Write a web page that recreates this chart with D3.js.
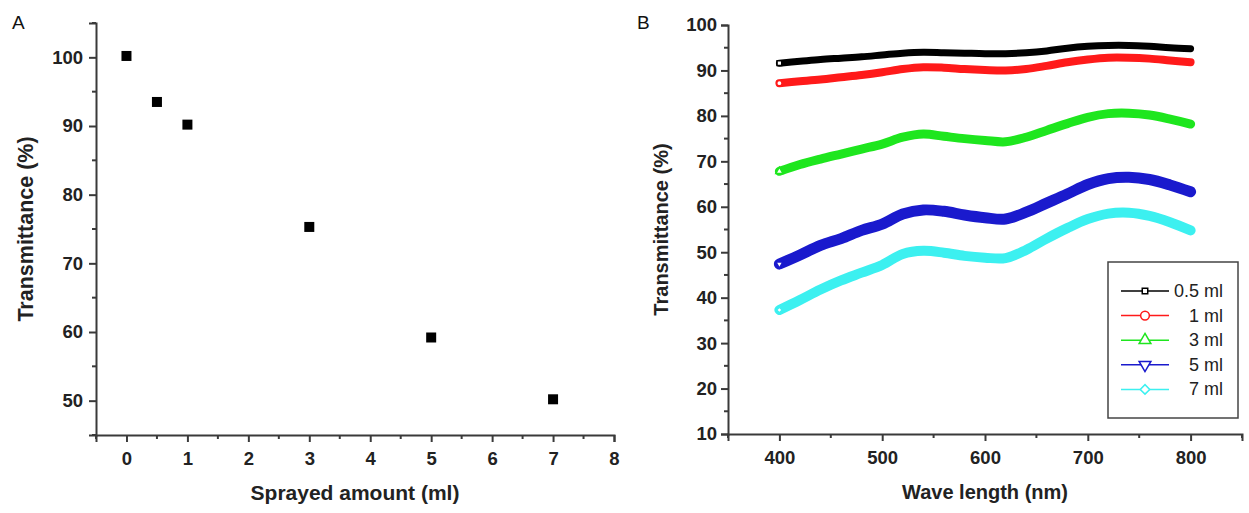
<!DOCTYPE html>
<html><head><meta charset="utf-8">
<script src="https://cdn.jsdelivr.net/npm/d3@7"></script>
<style>
body{margin:0;background:#fff;}
svg text{font-family:"Liberation Sans",Arial,sans-serif;}
</style></head>
<body><svg id="c" width="1249" height="513"></svg>
<script>
// Panel A data
const sprayAmounts = [0, 0.5, 1, 3, 5, 7];
const transA = [100.2, 93.5, 90.2, 75.3, 59.2, 50.2];
const aXTicks = [0,1,2,3,4,5,6,7,8];
const aYTicks = [50,60,70,80,90,100];

// Panel B data
const wavelengths = [400,420,440,460,480,500,520,540,560,580,600,620,640,660,680,700,720,740,760,780,800];
const seriesNames = ["0.5 ml","1 ml","3 ml","5 ml","7 ml"];
const t05 = [91.6,92.0,92.4,92.7,93.0,93.4,93.8,94.0,93.9,93.8,93.7,93.7,93.9,94.3,94.9,95.3,95.5,95.5,95.3,95.0,94.8];
const t1  = [87.2,87.6,88.0,88.5,89.0,89.6,90.3,90.7,90.6,90.3,90.1,90.0,90.3,91.0,91.8,92.4,92.8,92.8,92.6,92.2,91.8];
const t3  = [67.8,69.3,70.5,71.6,72.7,73.8,75.3,76.0,75.5,75.0,74.6,74.3,75.3,76.8,78.3,79.7,80.5,80.6,80.2,79.3,78.2];
const t5  = [47.4,49.4,51.5,53.0,54.8,56.2,58.4,59.3,59.0,58.2,57.6,57.3,58.8,60.8,62.8,64.9,66.2,66.5,66.0,64.8,63.3];
const t7  = [37.3,39.5,41.8,43.8,45.5,47.2,49.6,50.3,49.9,49.2,48.8,48.7,50.5,53.0,55.3,57.3,58.5,58.7,58.0,56.6,54.8];
const bXTicks = [400,500,600,700,800];
const bYTicks = [10,20,30,40,50,60,70,80,90,100];

const seriesData = [t05,t1,t3,t5,t7];
const colors = ["#000000","#ff1a1a","#1ee61e","#1a1acd","#3cf0f0"];
const widths = [7,8,9,11,10];
const symbols = [d3.symbolSquare, d3.symbolCircle, d3.symbolTriangle, d3.symbolTriangle, d3.symbolSquare];
const symRot = [0,0,0,180,45];

const svg = d3.select("#c");
const axisColor = "#3a3a3a";

function styleAxis(g){
  g.select(".domain").attr("stroke", axisColor).attr("stroke-width", 2);
  g.selectAll(".tick line").attr("stroke", axisColor).attr("stroke-width", 2);
  g.selectAll(".tick text").attr("fill","#222").style("font-weight","bold").style("font-size","18.5px")
    .style("font-family","'Liberation Sans',Arial,sans-serif");
}
function minorTicks(g, ticks, scale, orient, len){
  ticks.forEach(v=>{
    const p = scale(v);
    if(orient==="bottom") g.append("line").attr("x1",p).attr("x2",p).attr("y1",0).attr("y2",len);
    else g.append("line").attr("y1",p).attr("y2",p).attr("x1",0).attr("x2",-len);
  });
}

// ---------- Panel A ----------
const ax = d3.scaleLinear().domain([-0.5, 8]).range([96, 614]);
const ay = d3.scaleLinear().domain([45, 105]).range([435, 23]);

const gAx = svg.append("g").attr("transform","translate(0,435)")
  .call(d3.axisBottom(ax).tickValues(aXTicks).tickSizeOuter(0).tickSize(7).tickPadding(10));
styleAxis(gAx);
const gAxm = svg.append("g").attr("transform","translate(0,435)").attr("stroke",axisColor).attr("stroke-width",2);
minorTicks(gAxm, [-0.5,0.5,1.5,2.5,3.5,4.5,5.5,6.5,7.5], ax, "bottom", 4);

const gAy = svg.append("g").attr("transform","translate(96,0)")
  .call(d3.axisLeft(ay).tickValues(aYTicks).tickSizeOuter(0).tickSize(7).tickPadding(6));
styleAxis(gAy);
const gAym = svg.append("g").attr("transform","translate(96,0)").attr("stroke",axisColor).attr("stroke-width",2);
minorTicks(gAym, [45,55,65,75,85,95,105], ay, "left", 4);

svg.selectAll("rect.ptA").data(sprayAmounts).enter().append("rect")
  .attr("x", (d)=>ax(d)-5).attr("y",(d,i)=>ay(transA[i])-5)
  .attr("width",10).attr("height",10).attr("fill","#000");

svg.append("text").attr("x",12).attr("y",29).text("A").style("font-size","19px").attr("fill","#111");
svg.append("text").attr("x",(ax(-0.5)+ax(8))/2).attr("y",500).attr("text-anchor","middle")
  .style("font-size","21px").style("font-weight","bold").attr("fill","#222").text("Sprayed amount (ml)");
svg.append("text").attr("transform",`translate(33,${(23+435)/2}) rotate(-90)`).attr("text-anchor","middle")
  .style("font-size","21.5px").style("font-weight","bold").attr("fill","#222").text("Transmittance (%)");

// ---------- Panel B ----------
const bx = d3.scaleLinear().domain([350, 850]).range([728, 1242]);
const by = d3.scaleLinear().domain([10, 100]).range([434, 25]);

const gBx = svg.append("g").attr("transform","translate(0,434)")
  .call(d3.axisBottom(bx).tickValues(bXTicks).tickSizeOuter(0).tickSize(7).tickPadding(10));
styleAxis(gBx);
const gBxm = svg.append("g").attr("transform","translate(0,434)").attr("stroke",axisColor).attr("stroke-width",2);
minorTicks(gBxm, [350,450,550,650,750,850], bx, "bottom", 4);

const gBy = svg.append("g").attr("transform","translate(728,0)")
  .call(d3.axisLeft(by).tickValues(bYTicks).tickSizeOuter(0).tickSize(7).tickPadding(4));
styleAxis(gBy);
const gBym = svg.append("g").attr("transform","translate(728,0)").attr("stroke",axisColor).attr("stroke-width",2);
minorTicks(gBym, [15,25,35,45,55,65,75,85,95], by, "left", 4);

const line = d3.line().x((d,i)=>bx(wavelengths[i])).y(d=>by(d)).curve(d3.curveCatmullRom.alpha(0.5));
seriesData.forEach((s,k)=>{
  svg.append("path").attr("d", line(s)).attr("fill","none").attr("stroke",colors[k])
    .attr("stroke-width",widths[k]).attr("stroke-linecap","round").attr("stroke-linejoin","round");
});
// start markers
seriesData.forEach((s,k)=>{
  svg.append("path").attr("d", d3.symbol().type(symbols[k]).size(k===4?16:22)())
    .attr("transform",`translate(${bx(wavelengths[0])},${by(s[0])}) rotate(${symRot[k]})`)
    .attr("fill","#fff").attr("stroke",colors[k]).attr("stroke-width",1.5);
});

svg.append("text").attr("x",637).attr("y",29).text("B").style("font-size","19px").attr("fill","#111");
svg.append("text").attr("x",(bx(350)+bx(850))/2).attr("y",499).attr("text-anchor","middle")
  .style("font-size","20px").style("font-weight","bold").attr("fill","#222").text("Wave length (nm)");
svg.append("text").attr("transform",`translate(668,${(25+434)/2}) rotate(-90)`).attr("text-anchor","middle")
  .style("font-size","20px").style("font-weight","bold").attr("fill","#222").text("Transmittance (%)");

// Legend
const leg = svg.append("g");
leg.append("rect").attr("x",1108).attr("y",262).attr("width",130).attr("height",156)
  .attr("fill","#fff").attr("stroke","#444").attr("stroke-width",1.5);
seriesNames.forEach((n,k)=>{
  const yy = 291 + k*24.6;
  leg.append("line").attr("x1",1121).attr("x2",1169).attr("y1",yy).attr("y2",yy)
    .attr("stroke",colors[k]).attr("stroke-width",1.5);
  leg.append("path").attr("d", d3.symbol().type(symbols[k]).size(k===0?30:(k===4?45:60))())
    .attr("transform",`translate(1145,${yy}) rotate(${symRot[k]})`)
    .attr("fill","#fff").attr("stroke",colors[k]).attr("stroke-width",1.5);
  leg.append("text").attr("x",1223).attr("y",yy+6).attr("text-anchor","end")
    .style("font-size","18px").attr("fill","#222").text(n);
});
</script></body></html>
